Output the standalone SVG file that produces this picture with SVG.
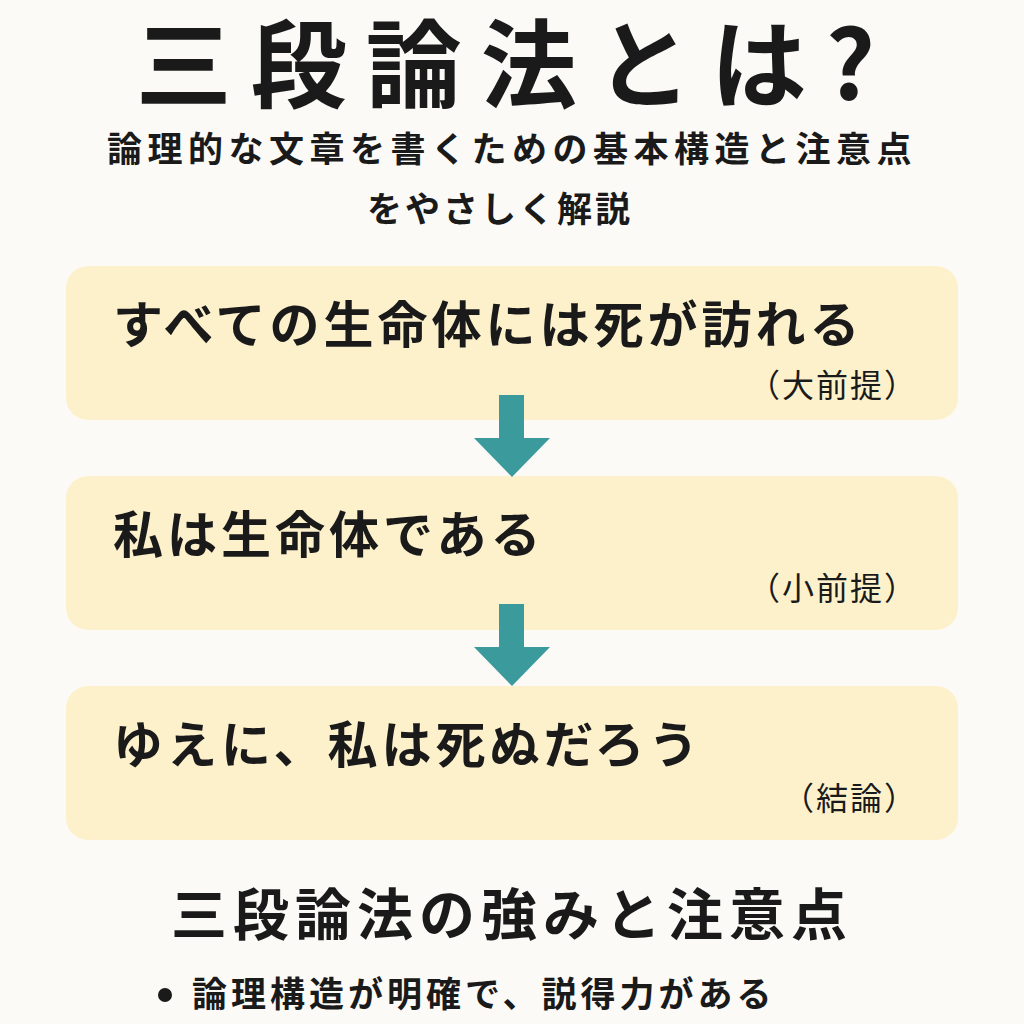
<svg xmlns="http://www.w3.org/2000/svg" width="1024" height="1024" viewBox="0 0 1024 1024">
<style>
text{font-family:"Noto Sans CJK JP","Noto Sans CJK SC",sans-serif;fill:#1a1a1a;font-weight:bold}
.box{fill:#fdf1cc}
.main{font-size:50px;letter-spacing:4px}
.lab{font-size:32px;font-weight:normal;text-anchor:end;letter-spacing:2px}
.arr{fill:#3b9a9c}
</style>
<rect width="1024" height="1024" fill="#fbfaf7"/>
<text x="515" y="100" font-size="96" text-anchor="middle" font-weight="900" letter-spacing="19">三段論法とは?</text>
<text x="512" y="162" font-size="35" text-anchor="middle" letter-spacing="5.5">論理的な文章を書くための基本構造と注意点</text>
<text x="500" y="222" font-size="35" text-anchor="middle" letter-spacing="3">をやさしく解説</text>
<g id="n1"><rect class="box" x="66" y="266" width="892" height="154" rx="22"/><text class="main" x="113" y="343">すべての生命体には死が訪れる</text><text class="lab" x="918" y="397">（大前提）</text></g>
<g id="n2"><rect class="box" x="66" y="476" width="892" height="154" rx="22"/><text class="main" x="113" y="553">私は生命体である</text><text class="lab" x="918" y="600">（小前提）</text></g>
<g id="n3"><rect class="box" x="66" y="686" width="892" height="154" rx="22"/><text class="main" x="113" y="763">ゆえに、私は死ぬだろう</text><text class="lab" x="918" y="810">（結論）</text></g>
<g id="connectors">
<polygon class="arr" points="499,395 524,395 524,438 550,438 512,477 474,438 499,438"/>
<polygon class="arr" points="499,604 524,604 524,647 550,647 512,686 474,647 499,647"/>
</g>
<text x="512" y="935" font-size="56" text-anchor="middle" letter-spacing="6">三段論法の強みと注意点</text>
<circle cx="165" cy="995" r="7" fill="#1a1a1a"/>
<text x="192" y="1007" font-size="35" letter-spacing="4">論理構造が明確で、説得力がある</text>
</svg>
